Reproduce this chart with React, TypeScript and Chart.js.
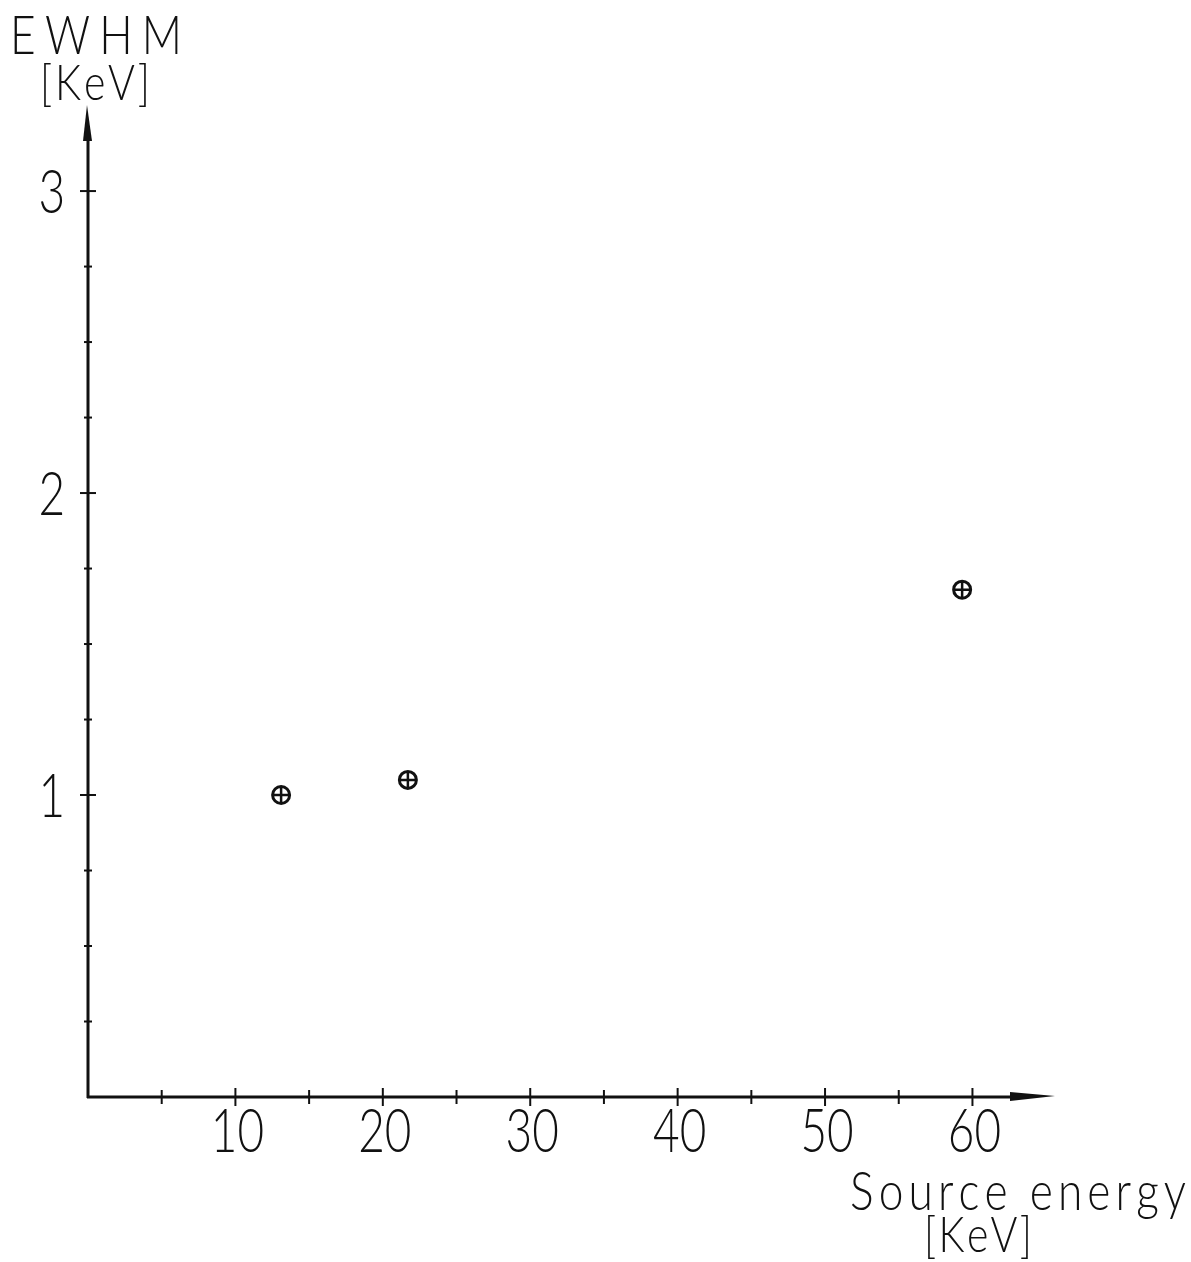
import React, { useEffect, useRef } from "react";
import { Chart, registerables } from "chart.js";

Chart.register(...registerables);

// ---- data ----
const sourceEnergy = [13.1, 21.7, 59.3]; // KeV
const fwhmValues = [1.0, 1.05, 1.68]; // KeV
const xTickLabels = [10, 20, 30, 40, 50, 60];
const yTickLabels = [1, 2, 3];
const xMinorStep = 5;
const yMinorStep = 0.25;
const yAxisTitle = ["EWHM", "[KeV]"];
const xAxisTitle = ["Source energy", "[KeV]"];

const FONT = "Lato, 'Open Sans', Roboto, 'Liberation Sans', sans-serif";
const WEIGHT = 300;
const TITLE_SQUEEZE = 0.82;
const DIGIT_SQUEEZE = 0.74;
const INK = "#111111";

// draw text horizontally condensed so that it spans [left, right]
function fitText(ctx: CanvasRenderingContext2D, text: string, left: number, right: number, baseline: number, size: number) {
  ctx.save();
  ctx.font = `${WEIGHT} ${size}px ${FONT}`;
  ctx.textAlign = "left";
  ctx.textBaseline = "alphabetic";
  const chars = Array.from(text);
  const widths = chars.map((c) => ctx.measureText(c).width * TITLE_SQUEEZE);
  const natural = widths.reduce((a, b) => a + b, 0);
  const gap = chars.length > 1 ? (right - left - natural) / (chars.length - 1) : 0;
  let xPos = left;
  chars.forEach((ch, i) => {
    ctx.save();
    ctx.translate(xPos, baseline);
    ctx.scale(TITLE_SQUEEZE, 1);
    ctx.fillText(ch, 0, 0);
    ctx.restore();
    xPos += widths[i] + gap;
  });
  ctx.restore();
}

function squeezedText(ctx: CanvasRenderingContext2D, text: string, x: number, y: number, size: number, align: "center" | "right") {
  ctx.save();
  ctx.font = `${WEIGHT} ${size}px ${FONT}`;
  ctx.textBaseline = "alphabetic";
  ctx.textAlign = align;
  ctx.translate(x, y);
  ctx.scale(DIGIT_SQUEEZE, 1);
  ctx.fillText(text, 0, 0);
  ctx.restore();
}

const handAxes = {
  id: "handAxes",
  beforeDraw(chart: any) {
    const { ctx, width, height } = chart;
    ctx.save();
    ctx.fillStyle = "#ffffff";
    ctx.fillRect(0, 0, width, height);
    ctx.restore();
  },
  afterDraw(chart: any) {
    const { ctx } = chart;
    const xs = chart.scales.x;
    const ys = chart.scales.y;
    const x0 = xs.getPixelForValue(0);
    const y0 = ys.getPixelForValue(0);
    const xEnd = xs.right;
    const yEnd = ys.top;
    ctx.save();
    ctx.strokeStyle = INK;
    ctx.fillStyle = INK;
    ctx.lineWidth = 3;
    ctx.lineCap = "butt";
    // y axis
    ctx.beginPath();
    ctx.moveTo(x0, y0 + 1);
    ctx.lineTo(x0, yEnd + 30);
    ctx.stroke();
    ctx.beginPath();
    ctx.moveTo(x0 - 1, yEnd);
    ctx.lineTo(x0 - 5, yEnd + 36);
    ctx.lineTo(x0 + 4, yEnd + 36);
    ctx.closePath();
    ctx.fill();
    // x axis
    ctx.beginPath();
    ctx.moveTo(x0 - 1, y0);
    ctx.lineTo(xEnd - 40, y0);
    ctx.stroke();
    ctx.beginPath();
    ctx.moveTo(xEnd, y0 - 1);
    ctx.lineTo(xEnd - 45, y0 - 5);
    ctx.lineTo(xEnd - 45, y0 + 4);
    ctx.closePath();
    ctx.fill();

    // tick marks crossing the axes
    ctx.lineWidth = 2;
    const xMax = xTickLabels[xTickLabels.length - 1];
    for (let v = xMinorStep; v <= xMax + 1e-9; v += xMinorStep) {
      const px = xs.getPixelForValue(v);
      const major = xTickLabels.includes(Math.round(v));
      const h = major ? 9 : 7;
      ctx.beginPath();
      ctx.moveTo(px, y0 - h);
      ctx.lineTo(px, y0 + h);
      ctx.stroke();
    }
    const yMax = yTickLabels[yTickLabels.length - 1];
    for (let v = yMinorStep; v <= yMax + 1e-9; v += yMinorStep) {
      const py = ys.getPixelForValue(v);
      const major = Math.abs(v - Math.round(v)) < 1e-6;
      const w = major ? 8 : 4;
      ctx.beginPath();
      ctx.moveTo(x0 - w, py);
      ctx.lineTo(x0 + w, py);
      ctx.stroke();
    }

    // tick labels
    ctx.fillStyle = INK;
    for (const v of xTickLabels) {
      squeezedText(ctx, String(v), xs.getPixelForValue(v) + 2, y0 + 55, 62, "center");
    }
    for (const v of yTickLabels) {
      squeezedText(ctx, String(v), x0 - 23, ys.getPixelForValue(v) + 22, 62, "right");
    }

    // axis titles
    fitText(ctx, yAxisTitle[0], 10, 182, 54, 54);
    fitText(ctx, yAxisTitle[1], 40, 150, 100, 50);
    fitText(ctx, xAxisTitle[0], 850, 1186, 1210, 54);
    fitText(ctx, xAxisTitle[1], 924, 1032, 1252, 50);
    ctx.restore();
  },
};

export default function App() {
  const canvasRef = useRef<HTMLCanvasElement | null>(null);

  useEffect(() => {
    const canvas = canvasRef.current;
    if (!canvas) return;
    const points = sourceEnergy.map((x, i) => ({ x, y: fwhmValues[i] }));
    const chart = new Chart(canvas, {
      type: "scatter",
      data: {
        datasets: [
          {
            label: "FWHM",
            data: points,
            pointStyle: "circle",
            pointRadius: 8.5,
            pointHoverRadius: 8.5,
            borderWidth: 3,
            borderColor: INK,
            backgroundColor: "rgba(255,255,255,0)",
          },
          {
            label: "FWHM cross",
            data: points,
            pointStyle: "cross",
            pointRadius: 8,
            pointHoverRadius: 8,
            borderWidth: 2.5,
            borderColor: INK,
            backgroundColor: INK,
          },
        ],
      },
      options: {
        animation: false,
        responsive: false,
        maintainAspectRatio: false,
        devicePixelRatio: 1,
        events: [],
        layout: { padding: { left: 0, right: 136, top: 105, bottom: 0 } },
        plugins: { legend: { display: false }, tooltip: { enabled: false }, title: { display: false } },
        scales: {
          x: {
            type: "linear",
            min: 0,
            max: 65.6,
            afterBuildTicks: (s: any) => {
              s.ticks = xTickLabels.map((v) => ({ value: v }));
            },
            afterFit: (s: any) => {
              s.height = 1262 - 1097;
            },
            grid: { display: false, drawTicks: false },
            border: { display: false },
            ticks: { display: false },
          },
          y: {
            type: "linear",
            min: 0,
            max: 3.285,
            afterBuildTicks: (s: any) => {
              s.ticks = yTickLabels.map((v) => ({ value: v }));
            },
            afterFit: (s: any) => {
              s.width = 88;
            },
            grid: { display: false, drawTicks: false },
            border: { display: false },
            ticks: { display: false },
          },
        },
      },
      plugins: [handAxes],
    });
    return () => chart.destroy();
  }, []);

  return (
    <div style={{ position: "absolute", left: 0, top: 0, width: 1191, height: 1262, background: "#fff" }}>
      <canvas ref={canvasRef} width={1191} height={1262} style={{ width: 1191, height: 1262, display: "block" }} />
    </div>
  );
}
